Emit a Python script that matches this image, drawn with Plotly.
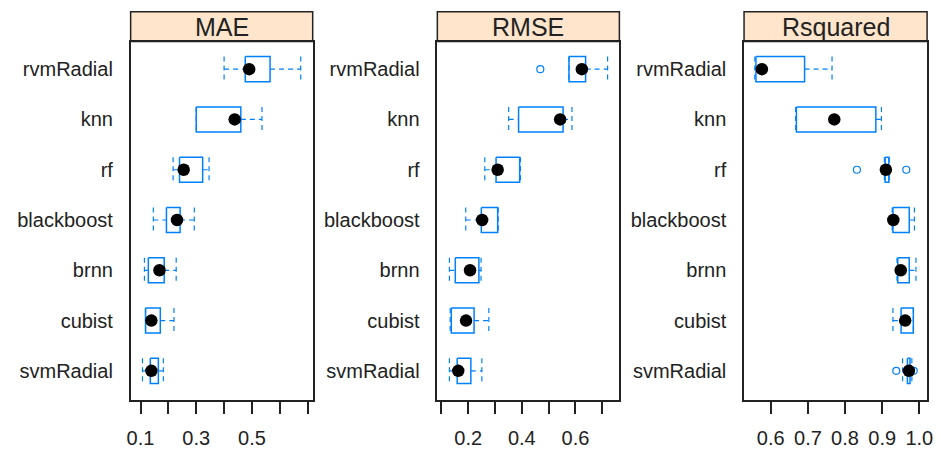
import plotly.graph_objects as go

models = ["rvmRadial", "knn", "rf", "blackboost", "brnn", "cubist", "svmRadial"]

# MAE
mae_min = [0.400, 0.300, 0.217, 0.146, 0.114, 0.118, 0.107]
mae_q1 = [0.476, 0.300, 0.240, 0.193, 0.128, 0.118, 0.135]
mae_med = [0.490, 0.438, 0.255, 0.231, 0.168, 0.139, 0.139]
mae_q3 = [0.565, 0.460, 0.323, 0.242, 0.185, 0.171, 0.164]
mae_max = [0.675, 0.536, 0.346, 0.293, 0.228, 0.220, 0.182]
mae_out_model = []
mae_out_val = []

# RMSE
rmse_min = [0.576, 0.351, 0.262, 0.191, 0.130, 0.133, 0.130]
rmse_q1 = [0.576, 0.388, 0.304, 0.249, 0.152, 0.137, 0.159]
rmse_med = [0.624, 0.543, 0.310, 0.252, 0.207, 0.192, 0.163]
rmse_q3 = [0.638, 0.554, 0.392, 0.310, 0.240, 0.222, 0.210]
rmse_max = [0.720, 0.587, 0.395, 0.312, 0.248, 0.277, 0.251]
rmse_out_model = ["rvmRadial"]
rmse_out_val = [0.469]

# Rsquared
rsq_min = [0.557, 0.667, 0.906, 0.927, 0.940, 0.929, 0.955]
rsq_q1 = [0.560, 0.669, 0.908, 0.929, 0.942, 0.951, 0.968]
rsq_med = [0.576, 0.771, 0.910, 0.930, 0.950, 0.962, 0.972]
rsq_q3 = [0.691, 0.883, 0.918, 0.973, 0.973, 0.984, 0.975]
rsq_max = [0.765, 0.898, 0.919, 0.987, 0.991, 0.984, 0.980]
rsq_out_model = ["rf", "rf", "svmRadial", "svmRadial"]
rsq_out_val = [0.832, 0.965, 0.938, 0.985]

metrics = ["MAE", "RMSE", "Rsquared"]
x_ranges = [[0.0645, 0.718], [0.085, 0.764], [0.528, 1.021]]
x_tickvals = [[0.1, 0.2, 0.3, 0.4, 0.5, 0.6, 0.7],
              [0.1, 0.2, 0.3, 0.4, 0.5, 0.6, 0.7],
              [0.6, 0.7, 0.8, 0.9, 1.0]]
x_ticktext = [["0.1", "", "0.3", "", "0.5", "", ""],
              ["", "0.2", "", "0.4", "", "0.6", ""],
              ["0.6", "0.7", "0.8", "0.9", "1.0"]]

data = [
    (mae_min, mae_q1, mae_med, mae_q3, mae_max, mae_out_model, mae_out_val),
    (rmse_min, rmse_q1, rmse_med, rmse_q3, rmse_max, rmse_out_model, rmse_out_val),
    (rsq_min, rsq_q1, rsq_med, rsq_q3, rsq_max, rsq_out_model, rsq_out_val),
]

W, H = 941, 449
panel_px = [(128, 312), (438, 622), (748, 933)]
top_px, bot_px, strip_top_px = 42, 405, 12

BLUE = "#0080ff"
FONT = "Arial, Liberation Sans, sans-serif"
HALF = 0.25

fig = go.Figure()

for k, (mn, q1, md, q3, mx, om, ov) in enumerate(data):
    xa = "x" if k == 0 else f"x{k+1}"
    ya = "y" if k == 0 else f"y{k+1}"
    for i, m in enumerate(models):
        yc = i + 1
        # box
        fig.add_trace(go.Scatter(
            x=[q1[i], q3[i], q3[i], q1[i], q1[i]],
            y=[yc - HALF, yc - HALF, yc + HALF, yc + HALF, yc - HALF],
            mode="lines", line=dict(color=BLUE, width=1.5),
            xaxis=xa, yaxis=ya, showlegend=False, hoverinfo="skip"))
        # whiskers (dashed) with caps
        fig.add_trace(go.Scatter(
            x=[mn[i], q1[i], None, q3[i], mx[i], None,
               mn[i], mn[i], None, mx[i], mx[i]],
            y=[yc, yc, None, yc, yc, None,
               yc - HALF, yc + HALF, None, yc - HALF, yc + HALF],
            mode="lines", line=dict(color=BLUE, width=1.2, dash="5px,4px"),
            xaxis=xa, yaxis=ya, showlegend=False, hoverinfo="skip"))
    # outliers
    if ov:
        fig.add_trace(go.Scatter(
            x=ov, y=[models.index(m) + 1 for m in om], mode="markers",
            marker=dict(symbol="circle-open", size=7, color=BLUE,
                        line=dict(width=1.2, color=BLUE)),
            xaxis=xa, yaxis=ya, showlegend=False))
    # medians
    fig.add_trace(go.Scatter(
        x=md, y=list(range(1, len(models) + 1)), mode="markers",
        marker=dict(symbol="circle", size=12.5, color="black"),
        xaxis=xa, yaxis=ya, showlegend=False))

layout = dict(
    width=W, height=H,
    margin=dict(l=0, r=0, t=0, b=0),
    paper_bgcolor="white", plot_bgcolor="white",
    font=dict(family=FONT, size=20, color="#222222"),
    showlegend=False,
)
shapes = []
annotations = []
ydom = [1 - bot_px / H, 1 - top_px / H]
for k in range(3):
    xl, xr = panel_px[k]
    xd = [xl / W, xr / W]
    xkey = "xaxis" if k == 0 else f"xaxis{k+1}"
    ykey = "yaxis" if k == 0 else f"yaxis{k+1}"
    anchor_y = "y" if k == 0 else f"y{k+1}"
    anchor_x = "x" if k == 0 else f"x{k+1}"
    layout[xkey] = dict(
        domain=xd, anchor=anchor_y, range=x_ranges[k],
        tickvals=x_tickvals[k], ticktext=x_ticktext[k],
        ticks="outside", ticklen=12, tickwidth=1.5, tickcolor="#222222",
        showline=True, linecolor="#222222", linewidth=1.5, mirror=True,
        showgrid=False, zeroline=False,
        tickfont=dict(family=FONT, size=20, color="#222222"),
        ticklabelstandoff=7)
    layout[ykey] = dict(
        domain=ydom, anchor=anchor_x, range=[7.59, 0.45],
        tickvals=list(range(1, len(models) + 1)), ticktext=models,
        ticks="outside", ticklen=12, tickcolor="rgba(0,0,0,0)",
        showline=True, linecolor="#222222", linewidth=1.5, mirror=True,
        showgrid=False, zeroline=False,
        tickfont=dict(family=FONT, size=20, color="#222222"))
    shapes.append(dict(
        type="rect", xref="paper", yref="paper",
        x0=xd[0], x1=xd[1], y0=1 - top_px / H, y1=1 - strip_top_px / H,
        fillcolor="#ffe5cc", line=dict(color="#222222", width=1.5), layer="below"))
    annotations.append(dict(
        xref="paper", yref="paper", x=(xd[0] + xd[1]) / 2,
        y=1 - (top_px + strip_top_px) / 2 / H, text=metrics[k], showarrow=False,
        xanchor="center", yanchor="middle",
        font=dict(family=FONT, size=25, color="#222222")))

layout["shapes"] = shapes
layout["annotations"] = annotations
fig.update_layout(**layout)

fig.write_html("out.html")
